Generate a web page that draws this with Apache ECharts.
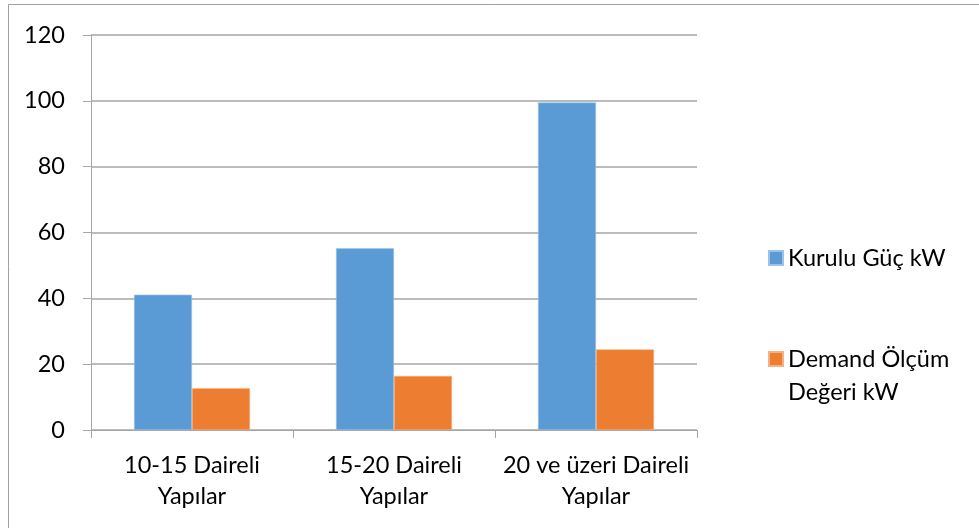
<!DOCTYPE html>
<html>
<head>
<meta charset="utf-8">
<script src="https://cdn.jsdelivr.net/npm/echarts@6/dist/echarts.min.js"></script>
<style>
  html, body { margin: 0; padding: 0; background: #fff; }
  #chart { width: 979px; height: 528px; }
</style>
</head>
<body>
<div id="chart"></div>
<script>
// Building groups (x axis)
const categories = ['10-15 Daireli Yapılar', '15-20 Daireli Yapılar', '20 ve üzeri Daireli Yapılar'];
// Installed power per group, kW
const kuruluGuc = [41.1, 55.2, 99.5];
// Measured demand per group, kW
const demandOlcum = [12.7, 16.4, 24.5];
// Value axis ticks
const yMin = 0, yMax = 120, yStep = 20;

const seriesNames = ['Kurulu Güç kW', 'Demand Ölçüm Değeri kW'];
const FONT = 'Lato';
const FONT_SIZE = 23.5;
const GRID_COLOR = '#a6a6a6';

// wrap a label before its last word
function wrapLast(s) {
  const i = s.lastIndexOf(' ');
  return i > 0 ? s.slice(0, i) + '\n' + s.slice(i + 1) : s;
}

const chart = echarts.init(document.getElementById('chart'), null, { renderer: 'canvas' });

const legendText = { fontFamily: FONT, fontSize: FONT_SIZE, color: '#000', lineHeight: 33 };

chart.setOption({
  backgroundColor: '#fff',
  animation: false,
  grid: { left: 91, right: 282, top: 35, bottom: 98, containLabel: false },
  legend: [
    {
      data: [seriesNames[0]],
      orient: 'vertical', left: 768, top: 241.5, padding: 0,
      itemWidth: 14, itemHeight: 14, icon: 'rect',
      textStyle: legendText
    },
    {
      data: [seriesNames[1]],
      orient: 'vertical', left: 768, top: 309.5, padding: 0,
      itemWidth: 14, itemHeight: 14, icon: 'rect',
      textStyle: legendText,
      // keep the icon level with the first text line
      formatter: function () { return ' \nDemand Ölçüm\nDeğeri kW'; }
    }
  ],
  xAxis: {
    type: 'category',
    data: categories,
    axisLine: { show: true, lineStyle: { color: GRID_COLOR, width: 1 } },
    axisTick: { show: true, length: 8, interval: 0, lineStyle: { color: GRID_COLOR } },
    axisLabel: {
      interval: 0, margin: 20,
      fontFamily: FONT, fontSize: FONT_SIZE, color: '#000', lineHeight: 31,
      formatter: wrapLast
    },
    splitLine: { show: false }
  },
  yAxis: {
    type: 'value',
    min: yMin, max: yMax, interval: yStep,
    axisLine: { show: true, lineStyle: { color: GRID_COLOR, width: 1 } },
    axisTick: { show: true, length: 8, lineStyle: { color: GRID_COLOR } },
    axisLabel: { margin: 26, fontFamily: FONT, fontSize: FONT_SIZE, color: '#000' },
    splitLine: { show: true, lineStyle: { color: GRID_COLOR, width: 1.5 } }
  },
  series: [
    {
      name: seriesNames[0], type: 'bar', data: kuruluGuc,
      barWidth: 58, barGap: '0%',
      itemStyle: { color: '#5b9bd5', borderColor: '#9cc3e6', borderWidth: 0.6 }
    },
    {
      name: seriesNames[1], type: 'bar', data: demandOlcum,
      barWidth: 58, barGap: '0%',
      itemStyle: { color: '#ed7d31', borderColor: '#f4b183', borderWidth: 0.6 }
    }
  ],
  graphic: [
    // chart frame, top and left edges
    { type: 'polyline', silent: true,
      shape: { points: [[8.5, 528], [8.5, 4.5], [979, 4.5]] },
      style: { stroke: '#a0a0a0', lineWidth: 1, fill: null } }
  ]
});
</script>
</body>
</html>
